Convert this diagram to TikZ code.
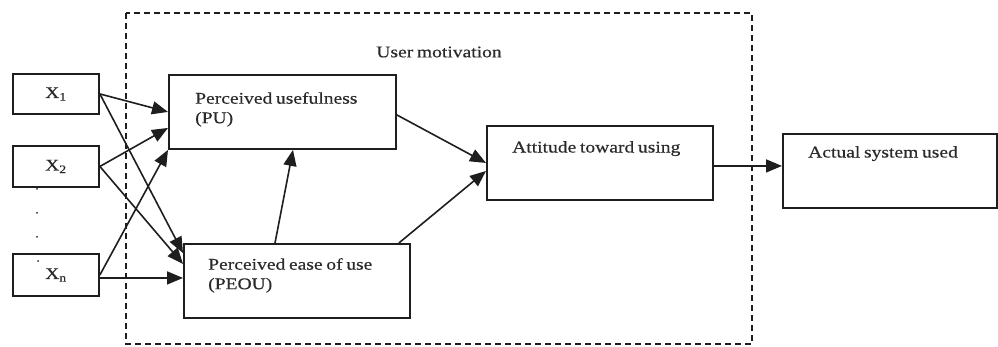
\documentclass[tikz,border=0pt]{standalone}
\usepackage{fontspec}
\setmainfont{Liberation Serif}[FakeStretch=1.2, WordSpace=0.75, FakeBold=0.4]
\usetikzlibrary{arrows.meta,calc}
\definecolor{ink}{HTML}{1e1e1e}
\definecolor{txt}{HTML}{2a2a2a}
\tikzset{
  box/.style={draw=ink, line width=1.9pt, rectangle, inner sep=0pt, anchor=north west},
  lbl/.style={inner sep=0pt, anchor=north west, align=left, text=txt, font=\fontsize{16.3}{19.5}\selectfont},
  xl/.style={inner sep=0pt, text=txt, font=\fontsize{16.3}{19.5}\selectfont},
  arr/.style={draw=ink, line width=1.6pt, -{Triangle[length=16pt,width=13pt]}},
  dashbox/.style={draw=ink, line width=1.6pt, dash pattern=on 6pt off 4pt},
  dotmark/.style={fill=txt}
}
\begin{document}
\begin{tikzpicture}[x=1pt,y=1pt]
\useasboundingbox (0,0) rectangle (998,-347);
% dashed region
\draw[dashbox] (126,-13) rectangle (752,-344);
\node[xl] (um) at (439,-52) {User motivation};
% X boxes
\node[box, minimum width=86pt, minimum height=40pt] (x1) at (12,-73) {};
\node[box, minimum width=86pt, minimum height=41pt] (x2) at (12,-145) {};
\node[box, minimum width=86pt, minimum height=42pt] (xn) at (12,-253) {};
\node[xl] (x1t) at (x1.center) {X\textsubscript{1}};
\node[xl] (x2t) at (x2.center) {X\textsubscript{2}};
\node[xl] (xnt) at (xn.center) {X\textsubscript{n}};
\fill[dotmark] (37,-189) circle (1pt);
\fill[dotmark] (37,-213) circle (1pt);
\fill[dotmark] (37,-237) circle (1pt);
\fill[dotmark] (38,-261) circle (1pt);
% main boxes
\node[box, minimum width=227pt, minimum height=74pt] (pu) at (168,-74) {};
\node[box, minimum width=226pt, minimum height=74pt] (peou) at (183,-243) {};
\node[box, minimum width=226pt, minimum height=74pt] (att) at (486,-125) {};
\node[box, minimum width=214pt, minimum height=74pt] (act) at (782,-133) {};
\node[lbl] (put) at (195,-92) {Perceived usefulness\\(PU)};
\node[lbl] (peout) at (208,-258) {Perceived ease of use\\(PEOU)};
\node[lbl] (attt) at (512,-141) {Attitude toward using};
\node[lbl] (actt) at (808,-146) {Actual system used};
% helper coordinates
\coordinate (xa) at ($(xn.east)+(0,-3)$);
\coordinate (aa) at ($(att.east)+(0,-3)$);
% arrows from X boxes
\draw[arr] (x1.east) -- (pu.west);
\draw[arr] (x1.east) -- ($(peou.north west)+(0,-10)$);
\draw[arr] (x2.east) -- ($(pu.west)+(0,-16)$);
\draw[arr] (x2.east) -- ($(peou.west)+(0,17)$);
\draw[arr] (xn.east) -- (pu.south west);
\draw[arr] (xa) -- (xa -| peou.west);
% internal arrows
\draw[arr] ($(peou.north west)+(92,0)$) -- ($(pu.south west)+(125,0)$);
\draw[arr] ($(pu.east)+(0,-3)$) -- (att.west);
\draw[arr] ($(peou.north east)+(-12,0)$) -- ($(att.west)+(0,-8)$);
\draw[arr] (aa) -- (aa -| act.west);
\end{tikzpicture}
\end{document}
